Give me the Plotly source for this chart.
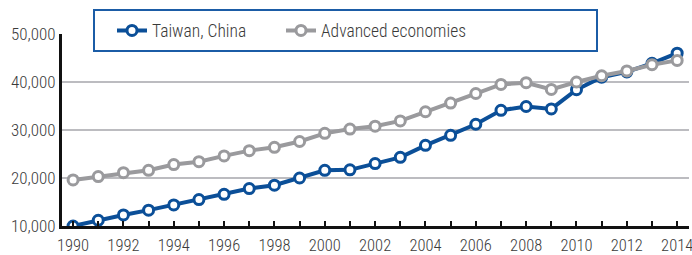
import plotly.graph_objects as go

years = list(range(1990, 2015))
taiwan = [10000, 11200, 12300, 13300, 14400, 15500, 16600, 17800, 18500, 20000,
          21600, 21700, 23000, 24300, 26800, 28900, 31200, 34100, 34900, 34400,
          38400, 41000, 42100, 43900, 46000]
advanced = [19600, 20300, 21100, 21600, 22800, 23400, 24600, 25700, 26400, 27600,
            29300, 30200, 30800, 31900, 33800, 35600, 37600, 39500, 39850, 38450,
            40000, 41300, 42300, 43600, 44500]
y_ticks = [10000, 20000, 30000, 40000, 50000]
x_ticks = list(range(1990, 2015, 2))

BLUE = "#0b4f98"
GRAY = "#9a9a9d"
TXT = "#3a3a3a"
FONT = "Liberation Sans Narrow, Roboto Condensed, Arial Narrow, Roboto, sans-serif"

L, R, T, B = 62, 3, 34, 29
W, H = 692, 255
PW, PH = W - L - R, H - T - B


def px_x(p):
    return (p - L) / PW


def px_y(p):
    return 1 - (p - T) / PH


fig = go.Figure()
fig.add_trace(go.Scatter(
    x=years, y=taiwan, name="Taiwan, China", mode="lines+markers",
    line=dict(color=BLUE, width=4),
    marker=dict(symbol="circle", size=10, color="white", line=dict(color=BLUE, width=3)),
    legend="legend",
))
fig.add_trace(go.Scatter(
    x=years, y=advanced, name="Advanced economies", mode="lines+markers",
    line=dict(color=GRAY, width=4),
    marker=dict(symbol="circle", size=10, color="white", line=dict(color=GRAY, width=3)),
    legend="legend2",
))

# legend frame
fig.add_shape(type="rect", xref="paper", yref="paper",
              x0=px_x(94), x1=px_x(597), y0=px_y(51), y1=px_y(10),
              line=dict(color="#1b5ca6", width=2), fillcolor="white", layer="above")

leg_common = dict(orientation="h", xanchor="left", yanchor="middle",
                  bgcolor="rgba(0,0,0,0)", borderwidth=0,
                  font=dict(family=FONT, size=17.5, color=TXT, weight=300))

fig.update_layout(
    width=W, height=H,
    margin=dict(l=L, r=R, t=T, b=B, autoexpand=False),
    paper_bgcolor="white", plot_bgcolor="white",
    font=dict(family=FONT, size=17, color=TXT, weight=300),
    showlegend=True,
    legend=dict(x=px_x(112), y=px_y(30.5), **leg_common),
    legend2=dict(x=px_x(281), y=px_y(30.5), **leg_common),
    xaxis=dict(range=[1989.56, 2014.47], tickmode="array", tickvals=x_ticks,
               ticktext=[str(t) for t in x_ticks], automargin=False,
               showgrid=False, zeroline=False,
               showline=True, linecolor="#111111", linewidth=3,
               ticks="inside", ticklen=5, tickwidth=2, tickcolor="#111111",
               ticklabeloverflow="allow", ticklabelstandoff=2,
               tickfont=dict(family=FONT, size=16.5, color=TXT, weight=300),
               minor=dict(tickvals=years, ticks="inside", ticklen=5, tickwidth=2,
                          tickcolor="#111111")),
    yaxis=dict(range=[10000, 50000], tickmode="array", tickvals=y_ticks, tickformat=",d",
               automargin=False,
               showgrid=True, gridcolor="#bcbcc0", gridwidth=1.5, zeroline=False,
               showline=True, linecolor="#111111", linewidth=3, ticks="", ticklen=0,
               tickfont=dict(family=FONT, size=17, color=TXT, weight=300)),
)

fig.write_html("out.html", config={"displayModeBar": False},
               post_script="document.body.style.margin='0';")
